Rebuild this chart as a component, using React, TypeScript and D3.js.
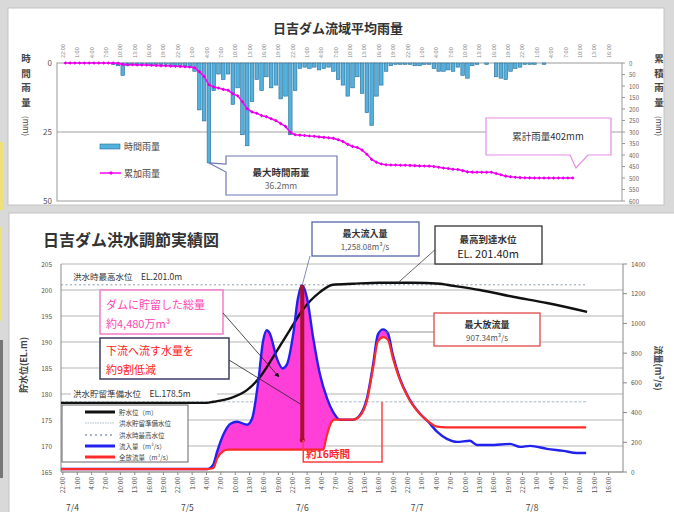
import React from "react";
import * as d3 from "d3";

// ---------- time axis: hours elapsed since 2018-07-03 22:00 ----------
const timeLabels = [
  "22:00",
  "1:00", "4:00", "7:00", "10:00", "13:00", "16:00", "19:00", "22:00",
  "1:00", "4:00", "7:00", "10:00", "13:00", "16:00", "19:00", "22:00",
  "1:00", "4:00", "7:00", "10:00", "13:00", "16:00", "19:00", "22:00",
  "1:00", "4:00", "7:00", "10:00", "13:00", "16:00", "19:00", "22:00",
  "1:00", "4:00", "7:00", "10:00", "13:00", "16:00",
];
const dateLabels = ["7/4", "7/5", "7/6", "7/7", "7/8"];
const dateHours = [2, 26, 50, 74, 98];

// ---------- upper chart: hourly basin rainfall (mm), hour 0..106 ----------
const hourlyRain = [
  0, 0, 0, 0, 0, 0, 0, 0, 0, 0,
  0.5, 1, 4.5, 1,
  0.5, 0.5, 0.5, 0.5, 1, 1, 0.5, 0.5, 1, 1, 1, 1, 1.5,
  3, 17, 21, 36.2,
  10, 4, 6, 4, 15, 9, 26, 30,
  14, 6, 10, 5, 9, 8, 13, 12, 26,
  10, 2, 1.5, 2, 1.5, 2.5, 2, 1.5, 3,
  6, 8, 12, 9, 5, 11, 18, 22.6, 12, 8, 3,
  1, 0.5, 0.5, 0.5, 0.5, 1, 1, 0.5, 0.5, 2, 3, 3, 2.5, 3, 1.5, 4.5, 5.5, 1,
  0.5, 0, 0.5, 0, 5, 5.5, 6, 3, 2, 1.5, 0.5, 0.5, 0.5, 0, 0.5, 0,
  0, 0, 0, 0, 0,
];
const rainLeftTicks = [0, 25, 50];
const rainRightTicks = [0, 50, 100, 150, 200, 250, 300, 350, 400, 450, 500, 550, 600];

// ---------- lower chart ----------
const levelHours = [-0.4, 30.1, 31.4, 35.0, 38.5, 41.2, 43.9, 47.4, 50.1, 53.7, 56.4, 60.6, 66.2, 73.1, 78.8, 80.2, 87.1, 94.0, 101.1, 109.5];
const levelValues = [178.3, 178.3, 178.5, 179.2, 180.8, 183.3, 187.1, 192.3, 196.2, 199.6, 201.0, 201.2, 201.4, 201.4, 201.2, 201.0, 200.0, 198.7, 197.5, 195.8];

const inflowHours = [-0.4, 30.1, 31.4, 32.2, 33.5, 35.0, 36.4, 38.5, 39.5, 40.8, 41.8, 42.6, 43.2, 44.7, 45.9, 46.8, 48.1, 49.1, 50.0, 51.0, 52.3, 53.7, 55.2, 56.4, 57.9, 60.6, 62.1, 63.5, 64.8, 65.8, 66.9, 67.9, 68.9, 70.4, 71.9, 73.1, 74.6, 76.3, 78.2, 80.2, 82.3, 85.0, 86.5, 89.2, 93.4, 95.5, 97.6, 101.1, 104.5, 107.4, 109.3];
const inflowValues = [20, 20, 50, 135, 250, 325, 338, 318, 358, 608, 879, 954, 933, 764, 697, 724, 926, 1170, 1258.08, 1170, 899, 656, 494, 406, 352, 352, 385, 494, 724, 926, 960, 933, 791, 629, 520, 453, 392, 338, 270, 223, 203, 210, 182, 182, 189, 169, 176, 156, 142, 128, 128];

const outflowHours = [-0.4, 30.1, 31.4, 32.2, 33.5, 34.4, 54.4, 55.0, 56.0, 56.6, 60.6, 62.1, 63.5, 64.8, 65.8, 66.9, 67.9, 68.9, 70.4, 71.9, 73.1, 74.6, 76.3, 78.2, 80.0, 109.3];
const outflowValues = [20, 20, 25, 90, 140, 150, 150, 230, 330, 352, 352, 380, 480, 700, 880, 907.34, 890, 770, 620, 515, 450, 390, 340, 305, 300, 300];

const floodMaxLevel = 201.0;
const floodStoreLevel = 178.5;
const peakInflowHour = 50.0;
const peakInflow = 1258.08;
const cutOutflowAtPeak = 215;
const levelLeftTicks = [165, 170, 175, 180, 185, 190, 195, 200, 205];
const flowRightTicks = [0, 200, 400, 600, 800, 1000, 1200, 1400];

const FONT = "'Noto Sans CJK JP', 'Noto Sans', sans-serif";

export default function App() {
  const xS = d3.scaleLinear().domain([-0.4, 117]).range([61, 623]);
  const yTopL = d3.scaleLinear().domain([0, 50]).range([63, 201]);
  const yTopR = d3.scaleLinear().domain([0, 600]).range([63, 201]);
  const yL = d3.scaleLinear().domain([165, 205]).range([472, 264]);
  const yR = d3.scaleLinear().domain([0, 1400]).range([472, 264]);

  const cumRain = Array.from(d3.cumsum(hourlyRain));

  const cumLine = d3.line<number>()
    .x((_, i) => xS(i + 0.5))
    .y((d) => yTopR(d));

  const lvlPts = levelHours.map((h, i) => [h, levelValues[i]] as [number, number]);
  const inPts = inflowHours.map((h, i) => [h, inflowValues[i]] as [number, number]);
  const outPts = outflowHours.map((h, i) => [h, outflowValues[i]] as [number, number]);

  const lvlLine = d3.line<[number, number]>().x((d) => xS(d[0])).y((d) => yL(d[1])).curve(d3.curveMonotoneX);
  const flowLine = d3.line<[number, number]>().x((d) => xS(d[0])).y((d) => yR(d[1])).curve(d3.curveMonotoneX);
  const underArea = d3.area<[number, number]>().x((d) => xS(d[0])).y0(472).y1((d) => yR(d[1])).curve(d3.curveMonotoneX);
  const overArea = d3.area<[number, number]>().x((d) => xS(d[0])).y0(264).y1((d) => yR(d[1])).curve(d3.curveMonotoneX);

  const px = xS(peakInflowHour);

  const bars = hourlyRain.map((v, h) => {
    if (v <= 0) return null;
    const x0 = xS(h) + 0.6;
    const w = xS(h + 1) - xS(h) - 1.2;
    return <rect key={h} x={x0} y={63} width={w} height={yTopL(v) - 63} fill="#52b2dd" stroke="#2b6c98" strokeWidth={0.6} />;
  });

  const vChars = (chars: string[], x: number, y0: number, unit: string) => (
    <g fill="#444" fontSize={9.5} fontWeight="bold">
      {chars.map((c, i) => (
        <text key={i} x={x} y={y0 + i * 14.5} textAnchor="middle">{c}</text>
      ))}
      <text transform={`translate(${x - 3},${y0 + chars.length * 14.5 - 4}) rotate(90)`} fontSize={8} fontWeight="normal">{unit}</text>
    </g>
  );

  return (
    <svg width={674} height={512} style={{ position: "absolute", left: 0, top: 0, background: "#d9d9d9" }} fontFamily={FONT}>
      <defs>
        <clipPath id="aboveRed"><path d={overArea(outPts) || ""} /></clipPath>
        <marker id="arrow" viewBox="0 0 10 10" refX="9" refY="5" markerWidth="6" markerHeight="6" orient="auto">
          <path d="M0,0 L10,5 L0,10 Z" fill="#111" />
        </marker>
      </defs>

      {/* side artifacts */}
      <rect x={0} y={142} width={3} height={68} fill="#efe07a" />
      <rect x={0} y={227} width={2} height={94} fill="#efe07a" />
      <rect x={0} y={340} width={3} height={138} fill="#777" />

      {/* panels */}
      <rect x={8} y={8} width={656} height={197} fill="#fff" stroke="#c4c4c4" />
      <rect x={9} y={213} width={667} height={302} fill="#fff" stroke="#c4c4c4" />

      {/* ================= upper chart ================= */}
      <text x={338} y={33} textAnchor="middle" fontSize={13} fontWeight="bold" fill="#333">日吉ダム流域平均雨量</text>
      {timeLabels.map((t, i) => (
        <text key={i} transform={`translate(${xS(i * 3) + 2},58) rotate(-90)`} textAnchor="start" fontSize={5.5} fill="#888">{t}</text>
      ))}
      <line x1={57} x2={622} y1={yTopL(25)} y2={yTopL(25)} stroke="#a0a0a0" />
      <rect x={57} y={63} width={565} height={138} fill="none" stroke="#9a9a9a" />
      {rainLeftTicks.map((t) => (
        <text key={t} x={52} y={yTopL(t) + 3} textAnchor="end" fontSize={8} fill="#555">{t}</text>
      ))}
      {rainRightTicks.map((t) => (
        <g key={t}>
          <line x1={622} x2={625} y1={yTopR(t)} y2={yTopR(t)} stroke="#999" />
          <text x={629} y={yTopR(t) + 2.5} fontSize={6} fill="#666">{t}</text>
        </g>
      ))}
      {vChars(["時", "間", "雨", "量"], 26, 62, "(mm)")}
      {vChars(["累", "積", "雨", "量"], 659, 62, "(mm)")}

      {bars}
      <path d={cumLine(cumRain) || ""} fill="none" stroke="#ff00ff" strokeWidth={1.6} />
      {cumRain.map((v, i) => (
        <path key={i} transform={`translate(${xS(i + 0.5)},${yTopR(v)})`} d="M0,-1.8L1.8,0L0,1.8L-1.8,0Z" fill="#e000e0" />
      ))}

      {/* legend upper */}
      <rect x={100} y={144} width={20} height={5} fill="#52b2dd" stroke="#2b6c98" strokeWidth={0.6} />
      <text x={124} y={150} fontSize={9} fill="#444">時間雨量</text>
      <line x1={100} x2={121} y1={173} y2={173} stroke="#ff00ff" strokeWidth={1.5} />
      <path transform="translate(111,173)" d="M0,-2L2,0L0,2L-2,0Z" fill="#e000e0" />
      <text x={124} y={177} fontSize={9} fill="#444">累加雨量</text>

      {/* callouts upper */}
      <path d={`M226,156 H337 V195 H226 V172 L${xS(30.5)},${yTopL(36.2)} L226,164 Z`} fill="#fff" stroke="#7078b8" strokeWidth={1.2} />
      <text x={281} y={176} textAnchor="middle" fontSize={9.5} fontWeight="bold" fill="#333">最大時間雨量</text>
      <text x={281} y={189} textAnchor="middle" fontSize={8.5} fill="#666">36.2mm</text>
      <path d="M486,118 H611 V155 H588 L576,168 L570,155 H486 Z" fill="#fff" stroke="#e58ce5" strokeWidth={1.2} />
      <text x={548} y={140} textAnchor="middle" fontSize={9.5} fill="#333">累計雨量402mm</text>

      {/* ================= lower chart ================= */}
      <text x={43} y={246} fontSize={16} fontWeight="bold" fill="#333">日吉ダム洪水調節実績図</text>
      {levelLeftTicks.map((t) => (
        <g key={t}>
          <line x1={61} x2={623} y1={yL(t)} y2={yL(t)} stroke="#b5b5b5" />
          <text x={52} y={yL(t) + 2.5} textAnchor="end" fontSize={6.5} fill="#555">{t}</text>
        </g>
      ))}
      {flowRightTicks.map((t) => (
        <g key={t}>
          <line x1={623} x2={627} y1={yR(t)} y2={yR(t)} stroke="#888" />
          <text x={631} y={yR(t) + 2.5} fontSize={6.5} fill="#555">{t}</text>
        </g>
      ))}
      <line x1={61} x2={61} y1={264} y2={472} stroke="#888" />
      <line x1={623} x2={623} y1={264} y2={472} stroke="#888" />
      <line x1={61} x2={623} y1={472} y2={472} stroke="#888" />
      {timeLabels.map((t, i) => (
        <g key={i}>
          <line x1={xS(i * 3)} x2={xS(i * 3)} y1={472} y2={475} stroke="#888" />
          <text transform={`translate(${xS(i * 3) + 2.5},477) rotate(-90)`} textAnchor="end" fontSize={6.5} fill="#555">{t}</text>
        </g>
      ))}
      {dateLabels.map((d, i) => (
        <text key={d} x={xS(dateHours[i])} y={511} textAnchor="middle" fontSize={8.5} fill="#444">{d}</text>
      ))}
      <text transform="translate(27,365) rotate(-90)" textAnchor="middle" fontSize={9} fontWeight="bold" fill="#444">貯水位(EL.m)</text>
      <text transform="translate(655,368) rotate(90)" textAnchor="middle" fontSize={9} fontWeight="bold" fill="#444">流量(m³/s)</text>

      {/* reference levels */}
      <line x1={61} x2={xS(109.5)} y1={yL(floodMaxLevel)} y2={yL(floodMaxLevel)} stroke="#8a9ab0" strokeWidth={1} strokeDasharray="2,2.5" />
      <line x1={61} x2={xS(109.5)} y1={yL(floodStoreLevel)} y2={yL(floodStoreLevel)} stroke="#a8bcc6" strokeWidth={1} strokeDasharray="3,1.5" />
      <text x={73} y={280} fontSize={8.5} fill="#333">洪水時最高水位　EL.201.0m</text>
      <rect x={71} y={388} width={146} height={11} fill="#fff" />
      <text x={73} y={397} fontSize={8.5} fill="#333">洪水貯留準備水位　EL.178.5m</text>

      {/* flood storage fill */}
      <path d={underArea(inPts) || ""} fill="#ff3fd8" clipPath="url(#aboveRed)" />

      {/* series */}
      <path d={lvlLine(lvlPts) || ""} fill="none" stroke="#111" strokeWidth={2.4} />
      <path d={flowLine(inPts) || ""} fill="none" stroke="#2222ee" strokeWidth={2.4} />
      <path d={flowLine(outPts) || ""} fill="none" stroke="#ff2a2a" strokeWidth={2.2} />

      {/* peak cut bar */}
      <line x1={px} x2={px} y1={yR(peakInflow)} y2={yR(cutOutflowAtPeak)} stroke="#a8102c" strokeWidth={4} />
      <circle cx={px} cy={yR(cutOutflowAtPeak)} r={2.5} fill="#a8102c" />

      {/* 約16時間 bracket */}
      <path d={`M${px + 1},${yR(cutOutflowAtPeak)} V462 H382 V402`} fill="none" stroke="#ff4040" strokeWidth={1.5} />
      <text x={306} y={458} fontSize={10.5} fontWeight="bold" fill="#ff2a2a">約16時間</text>

      {/* annotation boxes */}
      <rect x={100} y={290} width={123} height={44} fill="#fff" stroke="#f27cc8" strokeWidth={1.5} />
      <text x={106} y={309} fontSize={11} fill="#ff46b4">ダムに貯留した総量</text>
      <text x={106} y={328} fontSize={11} fill="#ff46b4">約4,480万m³</text>
      <line x1={223} y1={313} x2={279} y2={377} stroke="#222" strokeWidth={0.8} markerEnd="url(#arrow)" />

      <rect x={100} y={338} width={129} height={41} fill="#fff" stroke="#3a3c62" strokeWidth={1.5} />
      <text x={106} y={355} fontSize={11} fill="#ff2020">下流へ流す水量を</text>
      <text x={106} y={374} fontSize={11} fill="#ff2020">約9割低減</text>
      <line x1={229} y1={360} x2={px - 2} y2={404} stroke="#222" strokeWidth={0.8} />

      <line x1={310} y1={256} x2={px} y2={yR(peakInflow)} stroke="#6070b0" strokeWidth={0.8} />
      <rect x={312} y={222} width={107} height={34} fill="#fff" stroke="#5464aa" strokeWidth={1.3} />
      <text x={365} y={237} textAnchor="middle" fontSize={9} fontWeight="bold" fill="#333">最大流入量</text>
      <text x={365} y={250} textAnchor="middle" fontSize={8} fill="#555">1,258.08m³/s</text>

      <line x1={437} y1={248} x2={398} y2={yL(201.4)} stroke="#444" strokeWidth={0.8} />
      <rect x={435} y={226} width={107} height={38} fill="#fff" stroke="#333" strokeWidth={1.3} />
      <text x={488} y={243} textAnchor="middle" fontSize={9.5} fontWeight="bold" fill="#333">最高到達水位</text>
      <text x={488} y={258} textAnchor="middle" fontSize={11} fill="#222">EL. 201.40m</text>

      <line x1={xS(66.9) + 2} y1={332} x2={434} y2={332} stroke="#777" strokeWidth={0.8} />
      <rect x={434} y={313} width={106} height={33} fill="#fff" stroke="#e04848" strokeWidth={1.3} />
      <text x={487} y={328} textAnchor="middle" fontSize={9} fontWeight="bold" fill="#333">最大放流量</text>
      <text x={487} y={341} textAnchor="middle" fontSize={8} fill="#555">907.34m³/s</text>

      {/* legend lower */}
      <rect x={62} y={405} width={126} height={57} fill="#fff" stroke="#666" strokeWidth={1} />
      <line x1={85} x2={115} y1={412} y2={412} stroke="#111" strokeWidth={3} />
      <text x={119} y={414.5} fontSize={6.5} fill="#444">貯水位（m）</text>
      <line x1={85} x2={115} y1={423} y2={423} stroke="#a8bcc6" strokeWidth={1.2} strokeDasharray="1.5,1" />
      <text x={119} y={425.5} fontSize={6.5} fill="#444">洪水貯留準備水位</text>
      <line x1={85} x2={115} y1={435} y2={435} stroke="#8a9ab0" strokeWidth={1.4} strokeDasharray="2,3" />
      <text x={119} y={437.5} fontSize={6.5} fill="#444">洪水時最高水位</text>
      <line x1={85} x2={115} y1={446} y2={446} stroke="#2222ee" strokeWidth={3} />
      <text x={119} y={448.5} fontSize={6.5} fill="#444">流入量（m³/s）</text>
      <line x1={85} x2={115} y1={457} y2={457} stroke="#ff2a2a" strokeWidth={3} />
      <text x={119} y={459.5} fontSize={6.5} fill="#444">全放流量（m³/s）</text>
    </svg>
  );
}
